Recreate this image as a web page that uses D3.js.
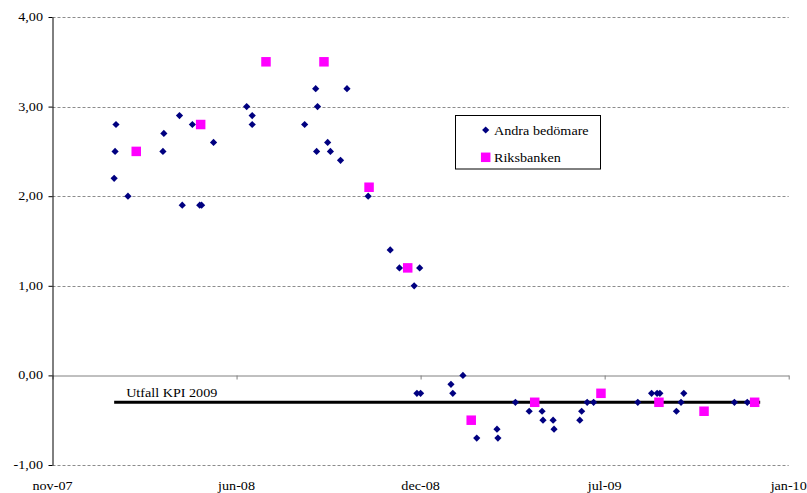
<!DOCTYPE html>
<html><head><meta charset="utf-8">
<script src="https://cdn.jsdelivr.net/npm/d3@7"></script>
<style>
body{margin:0;background:#fff}
svg{display:block}
text{font-family:"Liberation Serif","Times New Roman",serif;font-size:12px;fill:#000}
</style>
</head><body>
<svg id="c" width="807" height="493"></svg>
<script>
// ---- data ----
const andraDates = [
 "2008-01-20","2008-01-21","2008-01-22","2008-02-04","2008-03-13","2008-03-14","2008-03-31",
 "2008-04-03","2008-04-14","2008-04-22","2008-04-24","2008-05-07","2008-06-12","2008-06-18",
 "2008-06-18","2008-08-14","2008-08-26","2008-08-27","2008-08-28","2008-09-08","2008-09-11",
 "2008-09-22","2008-09-29","2008-10-22","2008-11-15","2008-11-25","2008-12-11","2008-12-17",
 "2008-12-14","2008-12-18","2009-01-20","2009-01-22","2009-02-02","2009-02-17","2009-03-11",
 "2009-03-12","2009-03-31","2009-04-15","2009-04-29","2009-04-30","2009-05-11","2009-05-12",
 "2009-06-09","2009-06-11","2009-06-17","2009-06-24","2009-08-11","2009-08-26","2009-09-01",
 "2009-09-04","2009-09-22","2009-09-27","2009-09-30","2009-11-24","2009-12-08"];
const andraValues = [
 2.2,2.5,2.8,2.0,2.5,2.7,2.9,
 1.9,2.8,1.9,1.9,2.6,3.0,2.9,
 2.8,2.8,3.2,2.5,3.0,2.6,2.5,
 2.4,3.2,2.0,1.4,1.2,1.0,1.2,
 -0.2,-0.2,-0.1,-0.2,0.0,-0.7,-0.6,
 -0.7,-0.3,-0.4,-0.4,-0.5,-0.5,-0.6,
 -0.5,-0.4,-0.3,-0.3,-0.3,-0.2,-0.2,
 -0.2,-0.4,-0.3,-0.2,-0.3,-0.3];
const riksDates = ["2008-02-13","2008-04-23","2008-07-03","2008-09-04","2008-10-23","2008-12-04",
 "2009-02-11","2009-04-21","2009-07-02","2009-09-03","2009-10-22","2009-12-16"];
const riksValues = [2.5,2.8,3.5,3.5,2.1,1.2,-0.5,-0.3,-0.2,-0.3,-0.4,-0.3];
const yTicks = [-1,0,1,2,3,4];
const xTickDates = ["2007-11-14","2008-06-01","2008-12-18","2009-07-06","2010-01-22"];
const xTickLabels = ["nov-07","jun-08","dec-08","jul-09","jan-10"];
const kpiDates = ["2008-01-20","2009-12-22"];
const kpiValue = -0.3;
const kpiLabel = "Utfall KPI 2009";
const legendLabels = ["Andra bedömare","Riksbanken"];

// ---- chart ----
const parse = d3.utcParse("%Y-%m-%d");
const svg = d3.select("#c");
const SX = 1.18; // horizontal text stretch of the original
const x = d3.scaleUtc().domain([parse(xTickDates[0]), parse(xTickDates[xTickDates.length-1])]).range([52.5, 788.7]);
const y = d3.scaleLinear().domain([-1, 4]).range([465, 17]);

function stretchText(g, tx, ty, str, anchor){
  return g.append("text").attr("transform", `translate(${tx},${ty}) scale(${SX},1)`)
    .attr("text-anchor", anchor).text(str);
}

// gridlines
svg.append("g").selectAll("line").data(yTicks.filter(v => v !== 0)).join("line")
  .attr("x1", x.range()[0]).attr("x2", x.range()[1])
  .attr("y1", d => Math.round(y(d)) + 0.5).attr("y2", d => Math.round(y(d)) + 0.5)
  .attr("stroke", "#8c8c8c").attr("stroke-width", 1).attr("stroke-dasharray", "3,2");

// x axis at 0
const xAxis = svg.append("g").attr("transform", `translate(0,${Math.round(y(0)) + 0.5})`)
  .call(d3.axisBottom(x).tickValues(xTickDates.map(parse)).tickSize(4).tickSizeOuter(0).tickFormat(""));
xAxis.select(".domain").attr("stroke", "#808080");
xAxis.selectAll(".tick line").attr("stroke", "#808080");

// y axis
const yAxis = svg.append("g").attr("transform", `translate(${x.range()[0]},0)`)
  .call(d3.axisLeft(y).tickValues(yTicks).tickSize(4).tickSizeOuter(0).tickFormat(""));
yAxis.select(".domain").attr("stroke", "#000");
yAxis.selectAll(".tick line").attr("stroke", "#000");

// tick labels
const lab = svg.append("g");
yTicks.forEach(v => stretchText(lab, 43, y(v) + 4, v.toFixed(2).replace(".", ","), "end"));
xTickDates.forEach((d, i) => stretchText(lab, x(parse(d)), 490, xTickLabels[i], "middle"));

// KPI line
svg.append("line")
  .attr("x1", x(parse(kpiDates[0]))).attr("x2", x(parse(kpiDates[1])))
  .attr("y1", y(kpiValue)).attr("y2", y(kpiValue))
  .attr("stroke", "#000").attr("stroke-width", 3);
stretchText(svg, x(parse(kpiDates[0])) + 12, y(kpiValue) - 5, kpiLabel, "start");

// diamonds
const diamond = d3.symbol(d3.symbolSquare, 26);
svg.append("g").selectAll("path").data(andraDates.map((d, i) => [parse(d), andraValues[i]])).join("path")
  .attr("d", diamond)
  .attr("transform", d => `translate(${x(d[0])},${y(d[1])}) rotate(45)`)
  .attr("fill", "#000080");

// squares
const sq = 9.5;
svg.append("g").selectAll("rect").data(riksDates.map((d, i) => [parse(d), riksValues[i]])).join("rect")
  .attr("x", d => x(d[0]) - sq/2).attr("y", d => y(d[1]) - sq/2)
  .attr("width", sq).attr("height", sq).attr("fill", "#ff00ff");

// legend
const lg = svg.append("g");
lg.append("rect").attr("x", 455.5).attr("y", 115.5).attr("width", 145).attr("height", 53.5)
  .attr("fill", "#fff").attr("stroke", "#000").attr("stroke-width", 1);
lg.append("path").attr("d", diamond).attr("transform", "translate(485.7,130) rotate(45)").attr("fill", "#000080");
lg.append("rect").attr("x", 485.7 - sq/2).attr("y", 157.3 - sq/2).attr("width", sq).attr("height", sq).attr("fill", "#ff00ff");
stretchText(lg, 494, 134.5, legendLabels[0], "start");
stretchText(lg, 494, 161.5, legendLabels[1], "start");
</script>
</body></html>
